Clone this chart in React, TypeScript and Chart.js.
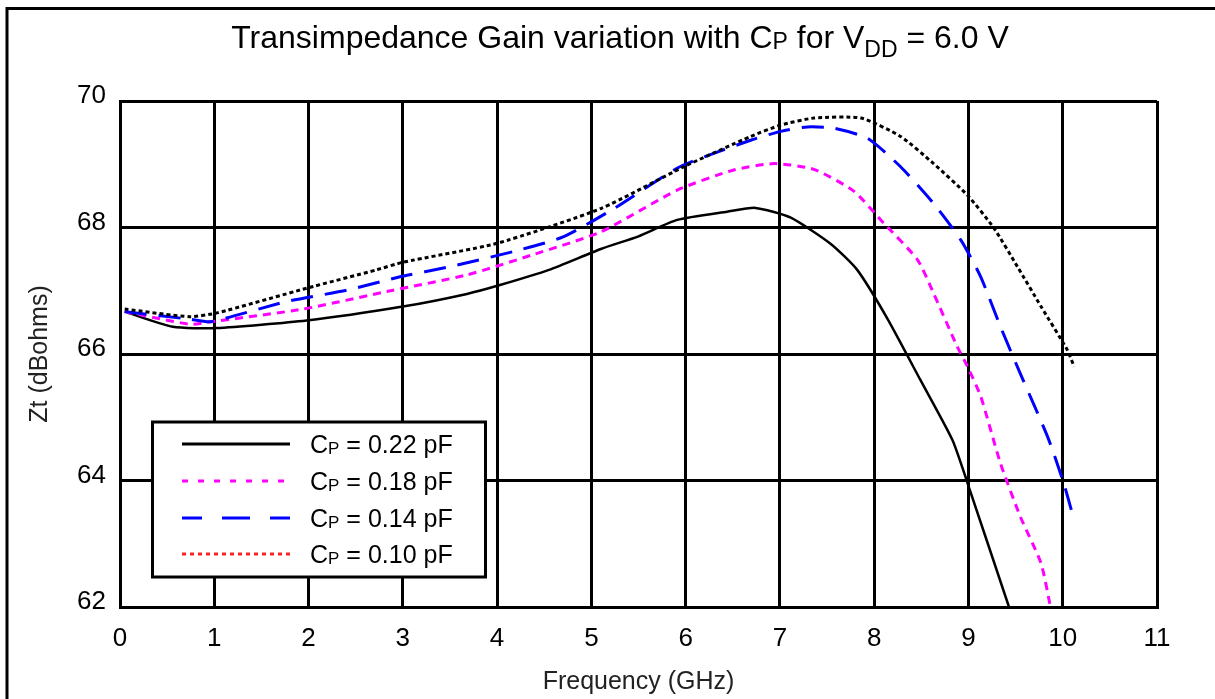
import React, { useEffect, useRef } from "react";
import { Chart, registerables } from "chart.js";

Chart.register(...registerables);

// ---- data ----
const seriesNames = ["0.22", "0.18", "0.14", "0.10"];

const freq022 = [0.05, 0.56, 1.02, 1.98, 3.0, 3.68, 4.03, 4.55, 5.1, 5.5, 5.91, 6.44, 6.74, 7.11, 7.54, 7.82, 8.14, 8.49, 8.83, 8.99, 9.43];
const zt022 = [66.67, 66.43, 66.41, 66.53, 66.75, 66.95, 67.09, 67.33, 67.66, 67.86, 68.12, 68.25, 68.31, 68.16, 67.74, 67.33, 66.56, 65.59, 64.64, 63.96, 62.0];

const freq018 = [0.05, 0.74, 0.92, 1.94, 2.87, 3.68, 4.4, 5.1, 5.91, 6.51, 6.94, 7.36, 7.78, 8.1, 8.46, 8.63, 8.88, 8.99, 9.13, 9.34, 9.55, 9.77, 9.87];
const zt018 = [66.67, 66.47, 66.5, 66.71, 67.0, 67.25, 67.58, 67.93, 68.59, 68.91, 69.01, 68.92, 68.58, 68.07, 67.49, 66.96, 66.12, 65.8, 65.33, 64.27, 63.43, 62.69, 62.0];

const freq014 = [0.05, 0.74, 0.96, 1.77, 2.41, 2.97, 3.5, 4.2, 4.7, 5.24, 5.94, 6.69, 7.01, 7.29, 7.57, 7.93, 8.28, 8.63, 8.92, 9.13, 9.34, 9.55, 9.84, 10.01, 10.12];
const zt014 = [66.67, 66.55, 66.51, 66.83, 67.01, 67.22, 67.38, 67.63, 67.85, 68.3, 68.96, 69.38, 69.52, 69.59, 69.57, 69.41, 68.96, 68.38, 67.8, 67.22, 66.43, 65.69, 64.69, 63.96, 63.38];

const freq010 = [0.05, 0.74, 1.03, 1.98, 2.72, 3.0, 4.0, 5.1, 5.98, 6.69, 7.01, 7.36, 7.86, 8.28, 8.63, 8.99, 9.27, 9.52, 9.77, 10.05, 10.12];
const zt010 = [66.71, 66.59, 66.65, 67.04, 67.33, 67.45, 67.75, 68.3, 68.96, 69.44, 69.62, 69.73, 69.73, 69.44, 69.01, 68.51, 67.99, 67.38, 66.75, 66.06, 65.8];

const xMin = 0;
const xMax = 11;
const yMin = 62;
const yMax = 70;

const titleSegments = [
  { t: "Transimpedance Gain variation with C", sub: false },
  { t: "P", sub: true },
  { t: " for V", sub: false },
  { t: "DD", sub: true },
  { t: " = 6.0 V", sub: false },
];

const FONT = "'Liberation Sans', Arial, sans-serif";

const toPoints = (xs: number[], ys: number[]) => xs.map((x, i) => ({ x, y: ys[i] }));

const lineColors = ["#000000", "#ff00ff", "#0000ff", "#000000"];
const lineDashes = [[], [8, 6], [22, 12], [4, 3]];
const lineWidths = [2.5, 3, 3, 3];
const legendColors = ["#000000", "#ff00ff", "#0000ff", "#ff2020"];
const legendDashes = [[], [6, 10], [28, 20], [4, 4]];

function drawRich(
  ctx: CanvasRenderingContext2D,
  segs: { t: string; sub: boolean }[],
  x: number,
  y: number,
  size: number,
  subSize: number,
  subOffsets: number[],
  align: "left" | "center"
) {
  ctx.textBaseline = "alphabetic";
  ctx.textAlign = "left";
  let total = 0;
  const widths = segs.map((s) => {
    ctx.font = `${s.sub ? subSize : size}px ${FONT}`;
    const w = ctx.measureText(s.t).width;
    total += w;
    return w;
  });
  let cx = align === "center" ? x - total / 2 : x;
  let subIdx = 0;
  segs.forEach((s, i) => {
    ctx.font = `${s.sub ? subSize : size}px ${FONT}`;
    const dy = s.sub ? subOffsets[Math.min(subIdx++, subOffsets.length - 1)] : 0;
    ctx.fillText(s.t, cx, y + dy);
    cx += widths[i];
  });
}

const decorPlugin = {
  id: "decor",
  beforeDraw(chart: any) {
    const ctx = chart.ctx as CanvasRenderingContext2D;
    ctx.save();
    ctx.fillStyle = "#ffffff";
    ctx.fillRect(0, 0, chart.width, chart.height);
    ctx.strokeStyle = "#000000";
    ctx.lineWidth = 3;
    ctx.beginPath();
    ctx.moveTo(7, chart.height);
    ctx.lineTo(7, 8.5);
    ctx.lineTo(chart.width, 8.5);
    ctx.stroke();
    ctx.restore();
  },
  afterDraw(chart: any) {
    const ctx = chart.ctx as CanvasRenderingContext2D;
    ctx.save();
    // title
    ctx.fillStyle = "#000000";
    drawRich(ctx, titleSegments, 620, 48, 32, 23, [1, 9], "center");

    // legend
    const bx = 152.5, by = 422, bw = 333, bh = 155;
    ctx.fillStyle = "#ffffff";
    ctx.fillRect(bx, by, bw, bh);
    ctx.strokeStyle = "#000000";
    ctx.lineWidth = 3;
    ctx.setLineDash([]);
    ctx.strokeRect(bx, by, bw, bh);
    const rowY = [444, 481, 518, 554];
    seriesNames.forEach((name, i) => {
      ctx.save();
      ctx.strokeStyle = legendColors[i];
      ctx.lineWidth = 3;
      ctx.setLineDash(legendDashes[i]);
      if (i === 2) ctx.lineDashOffset = 8;
      ctx.beginPath();
      ctx.moveTo(182, rowY[i]);
      ctx.lineTo(290, rowY[i]);
      ctx.stroke();
      ctx.restore();
      ctx.fillStyle = "#000000";
      drawRich(
        ctx,
        [
          { t: "C", sub: false },
          { t: "P", sub: true },
          { t: " = " + name + " pF", sub: false },
        ],
        310,
        rowY[i] + 9,
        25,
        17,
        [1],
        "left"
      );
    });
    ctx.restore();
  },
};

export default function App() {
  const canvasRef = useRef<HTMLCanvasElement | null>(null);

  useEffect(() => {
    const canvas = canvasRef.current;
    if (!canvas) return;
    const series = [
      toPoints(freq022, zt022),
      toPoints(freq018, zt018),
      toPoints(freq014, zt014),
      toPoints(freq010, zt010),
    ];
    const chart = new Chart(canvas, {
      type: "line",
      data: {
        datasets: series.map((pts, i) => ({
          label: `CP = ${seriesNames[i]} pF`,
          data: pts,
          borderColor: lineColors[i],
          borderWidth: lineWidths[i],
          borderDash: lineDashes[i],
          pointRadius: 0,
          tension: 0.2,
          fill: false,
          order: 3 - i,
        })),
      },
      options: {
        animation: false,
        responsive: false,
        maintainAspectRatio: false,
        devicePixelRatio: 1,
        layout: { padding: { left: 0, top: 101, right: 58, bottom: 0 } },
        plugins: {
          legend: { display: false },
          title: { display: false },
          tooltip: { enabled: false },
        },
        scales: {
          x: {
            type: "linear",
            min: xMin,
            max: xMax,
            afterFit: (s: any) => {
              s.height = 92;
            },
            ticks: {
              stepSize: 1,
              color: "#000000",
              font: { family: FONT, size: 26 },
              padding: 16,
              maxRotation: 0,
            },
            grid: { color: "#000000", lineWidth: 3, drawTicks: false },
            border: { display: true, color: "#000000", width: 3 },
            title: {
              display: true,
              text: "Frequency (GHz)",
              color: "#222222",
              font: { family: FONT, size: 25 },
              padding: { top: 0, bottom: 2 },
            },
          },
          y: {
            type: "linear",
            min: yMin,
            max: yMax,
            afterFit: (s: any) => {
              s.width = 120;
            },
            ticks: {
              stepSize: 2,
              color: "#000000",
              font: { family: FONT, size: 26 },
              padding: 14,
              labelOffset: -5,
            },
            grid: { color: "#000000", lineWidth: 3, drawTicks: false },
            border: { display: true, color: "#000000", width: 3 },
            title: {
              display: true,
              text: "Zt (dBohms)",
              color: "#222222",
              font: { family: FONT, size: 25 },
              padding: { top: 25, bottom: 0 },
            },
          },
        },
      },
      plugins: [decorPlugin],
    });
    return () => chart.destroy();
  }, []);

  return (
    <div style={{ position: "fixed", left: 0, top: 0, width: 1215, height: 699, background: "#ffffff" }}>
      <canvas ref={canvasRef} width={1215} height={699} style={{ display: "block", width: 1215, height: 699 }} />
    </div>
  );
}
